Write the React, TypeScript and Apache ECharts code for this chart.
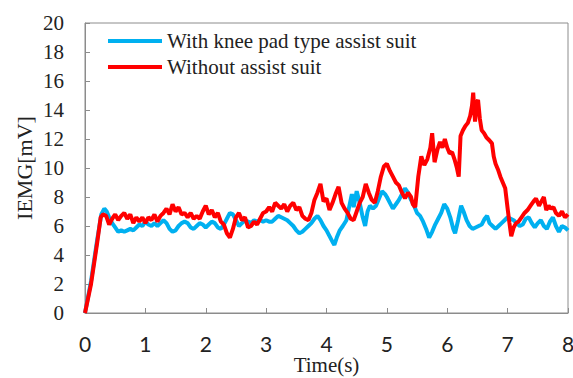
import React, { useEffect, useRef } from "react";
import * as echarts from "echarts";

const seriesNames = ["With knee pad type assist suit", "Without assist suit"];
const xTicks = [0, 1, 2, 3, 4, 5, 6, 7, 8];
const yTicks = [0, 2, 4, 6, 8, 10, 12, 14, 16, 18, 20];

const withSuit: [number, number][] = [
  [0, 0], [0.1, 2.2], [0.2, 5.0], [0.27, 6.8], [0.32, 7.2], [0.36, 7.0], [0.4, 6.6], [0.45, 6.2],
  [0.5, 5.9], [0.55, 5.6], [0.6, 5.7], [0.65, 5.6], [0.7, 5.7], [0.75, 5.8], [0.8, 5.7], [0.85, 5.9],
  [0.9, 6.1], [0.95, 6.0], [1.0, 6.3], [1.05, 6.1], [1.1, 6.0], [1.15, 6.2], [1.2, 6.0], [1.25, 6.2],
  [1.3, 6.4], [1.35, 6.2], [1.4, 5.8], [1.45, 5.6], [1.5, 5.7], [1.55, 6.0], [1.6, 6.2], [1.65, 6.3],
  [1.7, 6.2], [1.75, 5.9], [1.8, 5.8], [1.85, 6.0], [1.9, 6.2], [1.95, 6.1], [2.0, 5.9], [2.05, 6.1],
  [2.1, 6.3], [2.15, 6.2], [2.2, 5.9], [2.25, 5.8], [2.3, 6.1], [2.35, 6.5], [2.4, 6.9], [2.45, 6.8],
  [2.5, 6.4], [2.55, 6.0], [2.6, 6.2], [2.65, 6.4], [2.7, 6.3], [2.75, 6.2], [2.8, 6.4], [2.85, 6.3],
  [2.9, 6.4], [2.95, 6.3], [3.0, 6.4], [3.05, 6.3], [3.1, 6.3], [3.15, 6.5], [3.2, 6.7], [3.25, 6.6],
  [3.3, 6.5], [3.35, 6.4], [3.4, 6.2], [3.45, 6.0], [3.5, 5.7], [3.55, 5.5], [3.6, 5.6], [3.65, 5.8],
  [3.7, 6.0], [3.75, 6.2], [3.8, 6.5], [3.85, 6.7], [3.9, 6.4], [3.95, 6.0], [4.0, 5.7], [4.05, 5.3],
  [4.1, 4.9], [4.13, 4.7], [4.17, 5.2], [4.22, 5.7], [4.27, 6.0], [4.33, 6.4], [4.38, 7.4], [4.42, 8.2],
  [4.45, 7.3], [4.5, 8.4], [4.55, 7.6], [4.6, 6.6], [4.64, 6.0], [4.68, 7.0], [4.72, 7.4], [4.77, 7.2],
  [4.82, 7.4], [4.87, 7.9], [4.92, 8.4], [4.97, 8.2], [5.0, 8.0], [5.05, 7.6], [5.1, 7.2], [5.15, 7.5],
  [5.2, 7.8], [5.25, 8.2], [5.3, 8.6], [5.35, 8.3], [5.4, 7.8], [5.45, 7.4], [5.5, 6.9], [5.55, 6.7],
  [5.6, 6.3], [5.65, 5.8], [5.7, 5.2], [5.75, 5.6], [5.8, 6.1], [5.85, 6.5], [5.9, 6.9], [5.95, 7.5],
  [6.0, 7.2], [6.05, 6.6], [6.1, 5.8], [6.13, 5.5], [6.18, 6.4], [6.23, 7.4], [6.27, 7.0], [6.32, 6.4],
  [6.37, 6.0], [6.42, 5.8], [6.47, 5.9], [6.52, 6.0], [6.57, 6.1], [6.62, 6.5], [6.66, 6.7], [6.7, 6.2],
  [6.75, 6.0], [6.8, 5.8], [6.85, 6.0], [6.9, 6.2], [6.95, 6.4], [7.0, 6.6], [7.05, 6.5], [7.1, 6.4],
  [7.15, 6.2], [7.2, 6.0], [7.25, 6.1], [7.3, 6.5], [7.35, 6.6], [7.4, 6.2], [7.45, 5.9], [7.5, 6.2],
  [7.55, 6.4], [7.6, 6.0], [7.65, 5.8], [7.7, 6.3], [7.75, 6.6], [7.8, 6.0], [7.85, 5.6], [7.9, 6.0],
  [7.95, 5.9], [8.0, 5.7],
];

const withoutSuit: [number, number][] = [
  [0, 0], [0.1, 2.0], [0.2, 4.8], [0.26, 6.6], [0.3, 6.8], [0.35, 6.7], [0.4, 6.1], [0.45, 6.5],
  [0.5, 6.8], [0.55, 6.4], [0.6, 6.7], [0.65, 6.9], [0.7, 6.5], [0.75, 6.8], [0.8, 6.2], [0.85, 6.6],
  [0.9, 6.3], [0.95, 6.6], [1.0, 6.2], [1.05, 6.6], [1.1, 6.4], [1.15, 6.8], [1.2, 6.3], [1.25, 6.7],
  [1.3, 6.9], [1.35, 7.2], [1.4, 6.8], [1.45, 7.5], [1.5, 7.0], [1.55, 7.3], [1.6, 6.8], [1.65, 6.9],
  [1.7, 6.6], [1.75, 6.9], [1.8, 6.5], [1.85, 6.7], [1.9, 6.5], [1.95, 7.0], [2.0, 7.4], [2.05, 6.8],
  [2.1, 7.1], [2.15, 6.6], [2.2, 6.9], [2.25, 6.3], [2.3, 6.1], [2.35, 5.5], [2.4, 5.2], [2.45, 5.8],
  [2.5, 6.6], [2.55, 6.9], [2.6, 6.4], [2.65, 6.6], [2.7, 5.9], [2.75, 6.0], [2.8, 6.3], [2.85, 6.1],
  [2.9, 6.5], [2.95, 6.9], [3.0, 7.0], [3.05, 7.3], [3.1, 7.0], [3.15, 7.6], [3.2, 7.4], [3.25, 7.2],
  [3.3, 7.5], [3.35, 7.0], [3.4, 7.4], [3.45, 7.6], [3.5, 7.1], [3.55, 7.3], [3.6, 6.7], [3.65, 6.5],
  [3.7, 6.4], [3.75, 6.9], [3.8, 7.8], [3.85, 8.3], [3.9, 8.9], [3.95, 7.7], [4.0, 7.9], [4.05, 7.1],
  [4.1, 7.6], [4.15, 8.2], [4.2, 8.7], [4.25, 7.6], [4.3, 7.2], [4.35, 6.9], [4.4, 6.5], [4.45, 6.4],
  [4.5, 7.0], [4.55, 7.6], [4.6, 8.0], [4.65, 8.9], [4.7, 8.3], [4.75, 7.8], [4.8, 7.6], [4.85, 8.4],
  [4.9, 9.4], [4.95, 10.1], [5.0, 10.3], [5.05, 9.8], [5.1, 9.4], [5.15, 9.0], [5.2, 8.8], [5.25, 8.3],
  [5.3, 7.9], [5.35, 8.3], [5.4, 8.0], [5.43, 7.5], [5.47, 7.3], [5.52, 9.4], [5.57, 10.8], [5.62, 10.2],
  [5.67, 10.6], [5.72, 11.4], [5.75, 12.4], [5.79, 10.4], [5.84, 11.3], [5.88, 11.8], [5.92, 11.4], [5.96, 12.0],
  [6.0, 11.4], [6.04, 11.0], [6.08, 11.1], [6.12, 10.6], [6.16, 10.0], [6.19, 9.4], [6.22, 12.2], [6.26, 12.6],
  [6.3, 12.9], [6.34, 13.1], [6.38, 13.6], [6.41, 14.3], [6.43, 15.2], [6.46, 13.2], [6.49, 14.5], [6.51, 14.7],
  [6.54, 13.4], [6.57, 12.6], [6.61, 12.4], [6.65, 12.1], [6.7, 11.9], [6.74, 11.7], [6.77, 10.8], [6.8, 10.3],
  [6.84, 9.9], [6.88, 9.4], [6.92, 9.0], [6.96, 8.6], [7.0, 7.2], [7.03, 6.2], [7.06, 5.3], [7.1, 5.9],
  [7.14, 6.2], [7.18, 6.3], [7.23, 6.6], [7.28, 6.9], [7.33, 7.1], [7.38, 7.4], [7.43, 7.7], [7.47, 7.9],
  [7.52, 7.4], [7.56, 7.7], [7.6, 8.0], [7.64, 7.1], [7.68, 7.4], [7.72, 7.2], [7.76, 7.3], [7.8, 6.9],
  [7.85, 6.7], [7.9, 7.0], [7.95, 6.6], [8.0, 6.8],
];

const colors = ["#00B0F0", "#FF0000"];
const serif = "Liberation Serif";
const sans = "Lato";

export default function App() {
  const ref = useRef<HTMLDivElement>(null);
  useEffect(() => {
    if (!ref.current) return;
    const chart = echarts.init(ref.current, null, { renderer: "svg" });
    chart.setOption({
      animation: false,
      backgroundColor: "#ffffff",
      textStyle: { fontFamily: serif },
      grid: {
        left: 85,
        right: 5,
        top: 23,
        bottom: 65,
        outerBoundsMode: "none",
        containLabel: false,
        show: true,
        borderColor: "#8c8c8c",
        borderWidth: 1,
      },
      legend: {
        orient: "vertical",
        left: 108,
        top: 28,
        padding: 0,
        icon: "rect",
        itemWidth: 54,
        itemHeight: 4,
        itemGap: 0,
        data: seriesNames,
        textStyle: { fontFamily: serif, fontSize: 21, color: "#222", lineHeight: 26 },
      },
      xAxis: {
        type: "value",
        min: xTicks[0],
        max: xTicks[xTicks.length - 1],
        interval: 1,
        name: "Time(s)",
        nameLocation: "middle",
        nameGap: 52,
        nameMoveOverlap: false,
        nameTextStyle: { fontFamily: serif, fontSize: 21, color: "#222", verticalAlign: "middle", lineHeight: 21 },
        axisLine: { show: true, lineStyle: { color: "#8c8c8c", width: 1 } },
        axisTick: { show: true, inside: true, length: 5, lineStyle: { color: "#8c8c8c" } },
        axisLabel: { fontFamily: sans, fontSize: 21, color: "#222", margin: 20 },
        splitLine: { show: false },
      },
      yAxis: {
        type: "value",
        min: yTicks[0],
        max: yTicks[yTicks.length - 1],
        interval: 2,
        name: "IEMG[mV]",
        nameLocation: "middle",
        nameGap: 50,
        nameMoveOverlap: false,
        nameTextStyle: { fontFamily: serif, fontSize: 22, color: "#222" },
        axisLine: { show: true, lineStyle: { color: "#8c8c8c", width: 1 } },
        axisTick: { show: true, inside: true, length: 5, lineStyle: { color: "#8c8c8c" } },
        axisLabel: { fontFamily: serif, fontSize: 21, color: "#222", margin: 21 },
        splitLine: { show: false },
      },
      series: [
        {
          name: seriesNames[0],
          type: "line",
          data: withSuit,
          symbol: "none",
          lineStyle: { color: colors[0], width: 4 },
          itemStyle: { color: colors[0] },
        },
        {
          name: seriesNames[1],
          type: "line",
          data: withoutSuit,
          symbol: "none",
          lineStyle: { color: colors[1], width: 4 },
          itemStyle: { color: colors[1] },
        },
      ],
    });
    return () => chart.dispose();
  }, []);
  return (
    <div
      ref={ref}
      style={{ position: "absolute", left: 0, top: 0, width: 573, height: 378 }}
    />
  );
}
